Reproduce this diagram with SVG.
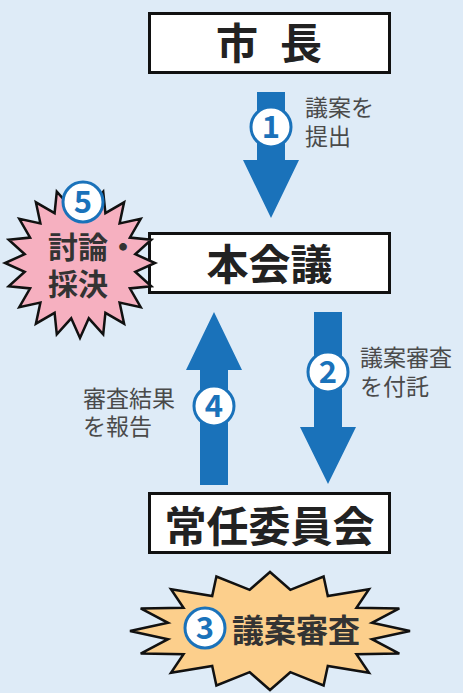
<svg xmlns="http://www.w3.org/2000/svg" width="463" height="693" viewBox="0 0 463 693">
<style>
.box{fill:#fff;stroke:#111;stroke-width:3}
.boxtxt{font-family:"Noto Sans CJK JP",sans-serif;font-weight:700;font-size:42px;fill:#222}
.lbl{font-family:"Noto Sans CJK JP",sans-serif;font-weight:400;font-size:23px;fill:#4a4a4a}
.arrow{fill:#1a72ba}
.num circle{fill:#fff;stroke:#1a72ba;stroke-width:3}
.num text{font-family:"Noto Sans CJK JP",sans-serif;font-weight:700;font-size:31px;fill:#1a72ba;text-anchor:middle}
.star{stroke:#111;stroke-width:2.5;stroke-linejoin:miter}
.startxt{font-family:"Noto Sans CJK JP",sans-serif;font-weight:700;fill:#333}
</style>
<rect width="463" height="693" fill="#deebf7"/>
<g id="connectors">
<polygon class="arrow" points="257,92 285,92 285,160 299,160 271,218 243,160 257,160"/>
<polygon class="arrow" points="314,312 342,312 342,427 356,427 328,484 300,427 314,427"/>
<polygon class="arrow" points="200,485 228,485 228,370 242,370 214,312 186,370 200,370"/>
<text class="lbl" x="305" y="116">議案を</text>
<text class="lbl" x="305" y="145">提出</text>
<text class="lbl" x="360" y="366">議案審査</text>
<text class="lbl" x="360" y="395">を付託</text>
<text class="lbl" x="83" y="407">審査結果</text>
<text class="lbl" x="83" y="435">を報告</text>
<g class="num"><circle cx="271" cy="127" r="20"/><text x="271" y="138">1</text></g>
<g class="num"><circle cx="328" cy="372" r="20"/><text x="328" y="383">2</text></g>
<g class="num"><circle cx="214" cy="406" r="20"/><text x="214" y="417">4</text></g>
</g>
<g id="mayor">
<rect class="box" x="149.5" y="13.5" width="240" height="59"/>
<text class="boxtxt" x="216 258 280" y="58.5">市 長</text>
</g>
<g id="plenary">
<rect class="box" x="149.5" y="233.5" width="240" height="59"/>
<text class="boxtxt" x="269.5" y="279.5" text-anchor="middle">本会議</text>
</g>
<g id="committee">
<rect class="box" x="149.5" y="493.5" width="240" height="59"/>
<text class="boxtxt" x="269.5" y="542" text-anchor="middle">常任委員会</text>
</g>
<g id="debate">
<polygon class="star" fill="#f6b0c0" points="80,188 88.8,207.7 103.2,191.7 105.4,213.1 124.1,202.3 119.6,223.4 140.7,218.9 129.9,237.6 151.3,239.8 135.3,254.2 155,263 135.3,271.8 151.3,286.2 129.9,288.4 140.7,307.1 119.6,302.6 124.1,323.7 105.4,312.9 103.2,334.3 88.8,318.3 80,338 71.2,318.3 56.8,334.3 54.6,312.9 35.9,323.7 40.4,302.6 19.3,307.1 30.1,288.4 8.7,286.2 24.7,271.8 5,263 24.7,254.2 8.7,239.8 30.1,237.6 19.3,218.9 40.4,223.4 35.9,202.3 54.6,213.1 56.8,191.7 71.2,207.7"/>
<g class="num"><circle cx="83" cy="202" r="20"/><text x="83" y="213">5</text></g>
<text class="startxt" font-size="30" x="48" y="258">討論・</text>
<text class="startxt" font-size="30" x="48" y="295">採決</text>
</g>
<g id="review">
<polygon class="star" fill="#fccf8c" points="410,631 372,639.2 399.3,653.6 356.5,654.3 369,672.7 327.8,665.9 323.6,685.5 290.3,672.2 270,690 249.7,672.2 216.4,685.5 212.2,665.9 171,672.7 183.5,654.3 140.7,653.6 168,639.2 130,631 168,622.8 140.7,608.4 183.5,607.7 171,589.3 212.2,596.1 216.4,576.5 249.7,589.8 270,572 290.3,589.8 323.6,576.5 327.8,596.1 369,589.3 356.5,607.7 399.3,608.4 372,622.8"/>
<g class="num"><circle cx="205" cy="628" r="20"/><text x="205" y="639">3</text></g>
<text class="startxt" font-size="32" x="232" y="642">議案審査</text>
</g>
</svg>
